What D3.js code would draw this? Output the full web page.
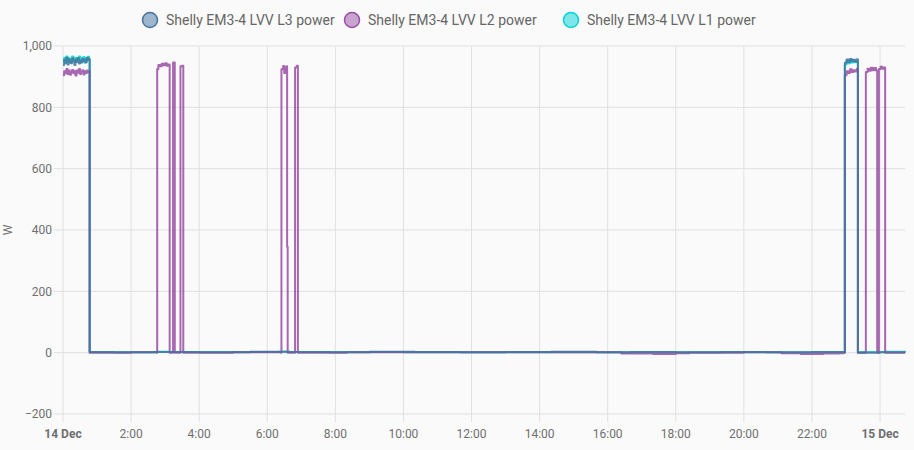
<!DOCTYPE html>
<html><head><meta charset="utf-8">
<script src="https://cdn.jsdelivr.net/npm/d3@7"></script>
<style>
body{margin:0;background:#fafafa;font-family:Roboto,"Noto Sans",sans-serif;}
svg{display:block;}
</style></head><body>
<svg id="c" width="914" height="450"></svg>
<script>
// ---- data (minutes since 14 Dec 00:00) ----
const seriesNames = ["Shelly EM3-4 LVV L3 power","Shelly EM3-4 LVV L2 power","Shelly EM3-4 LVV L1 power"];
const seriesColors = ["#44739e","#984ea3","#00d2d5"];
const yTicks = [-200,0,200,400,600,800,1000];
const xTickHours = [0,2,4,6,8,10,12,14,16,18,20,22,24];
const xTickLabels = ["14 Dec","2:00","4:00","6:00","8:00","10:00","12:00","14:00","16:00","18:00","20:00","22:00","15 Dec"];

const L3 = [[0,938],[2,955],[4,946],[6,962],[8,940],[10,957],[12,949],[14,944],[16,960],[18,951],[20,938],[22,956],[24,948],[26,961],[28,943],[30,953],[32,946],[34,958],[36,950],[38,955],[40,947],[42,962],[44,954],[46,958],
[47,2],[90,1],[160,2],[240,1],[330,3],[400,2],[470,1],[540,3],[620,2],[700,1],[780,2],[860,3],[940,1],[1000,2],[1080,1],[1160,2],[1240,1],[1320,2],[1376,1],
[1378,945],[1381,956],[1384,948],[1387,958],[1390,950],[1393,955],[1396,949],[1399,957],
[1401,0],[1440,1],[1484,0]];

const L2 = [[0,905],[2,918],[4,911],[6,925],[8,909],[10,920],[12,906],[14,915],[16,922],[18,911],[20,918],[22,904],[24,920],[26,913],[28,925],[30,909],[32,916],[34,921],[36,907],[38,918],[40,912],[42,920],[44,914],[46,918],
[47,0],[120,1],[165,0],
[166,925],[168,938],[171,934],[174,942],[177,937],[180,944],[183,936],[186,940],
[188,0],[194,946],[197,0],[207,934],[210,936],[212,0],
[300,1],[384,0],[385,924],[388,935],[390,912],[392,930],[394,934],[395,345],[396,0],
[409,930],[412,936],[414,0],
[500,1],[700,1],[900,1],[984,-3],[1040,-4],[1080,-2],[1104,0],[1200,1],[1266,-2],[1300,-4],[1340,-3],[1368,-2],[1376,0],
[1378,905],[1381,918],[1384,912],[1387,924],[1390,915],[1393,921],[1396,917],[1399,925],
[1401,0],[1414,1],
[1415,915],[1418,926],[1421,919],[1424,929],[1427,921],[1430,928],[1433,920],
[1435,0],[1438,925],[1441,932],[1444,926],[1447,930],[1449,0],[1484,0]];

const L1 = [[0,950],[2,962],[4,944],[6,966],[8,952],[10,960],[12,945],[14,958],[16,966],[18,950],[20,962],[22,948],[24,960],[26,955],[28,966],[30,947],[32,961],[34,952],[36,964],[38,945],[40,960],[42,954],[44,965],[46,956],
[47,1],[165,3],[188,2],[380,3],[396,2],[600,1],[900,1],[1200,1],[1376,1],
[1378,940],[1381,952],[1384,944],[1387,955],[1390,946],[1393,953],[1396,947],[1399,951],
[1401,2],[1449,3],[1484,1]];

// ---- chart ----
const svg = d3.select("#c");
const W = 914, H = 450;
const m = {left:63, right:9, top:46, bottom:36};
const base = new Date(2023,11,14,0,0,0);
const toDate = mins => new Date(base.getTime() + mins*60000);
const x = d3.scaleTime().domain([toDate(0), toDate(1484)]).range([m.left, W - m.right]);
const y = d3.scaleLinear().domain([-200,1000]).range([H - m.bottom, m.top]);

const grid = svg.append("g");
grid.selectAll("line.h").data(yTicks).join("line")
  .attr("x1", m.left - 9).attr("x2", W - m.right)
  .attr("y1", d=>y(d)).attr("y2", d=>y(d))
  .attr("stroke","#e0e0e0").attr("stroke-width",1);
const xTickDates = xTickHours.map(h=>toDate(h*60));
grid.selectAll("line.v").data(xTickDates).join("line")
  .attr("x1", d=>x(d)).attr("x2", d=>x(d))
  .attr("y1", m.top).attr("y2", H - m.bottom + 8)
  .attr("stroke","#e0e0e0").attr("stroke-width",1);

svg.append("g").selectAll("text").data(yTicks).join("text")
  .attr("x", m.left - 11).attr("y", d=>y(d)).attr("dy","0.35em")
  .attr("text-anchor","end").attr("font-size",12).attr("fill","#6f6f6f")
  .text(d=>d3.format(",")(d));
svg.append("g").selectAll("text").data(xTickDates).join("text")
  .attr("x", d=>x(d)).attr("y", H - m.bottom + 24)
  .attr("text-anchor","middle").attr("font-size",12).attr("fill","#6f6f6f")
  .attr("font-weight",(d,i)=> (xTickLabels[i].includes("Dec") ? "bold" : "normal"))
  .text((d,i)=>xTickLabels[i]);
svg.append("text").attr("transform",`translate(12,${y(400)}) rotate(-90)`)
  .attr("text-anchor","middle").attr("font-size",12).attr("fill","#6f6f6f").text("W");

const line = d3.line().x(d=>x(toDate(d[0]))).y(d=>y(d[1])).curve(d3.curveStepAfter);
const data = [L3, L2, L1];
const order = [2,1,0];
const gL = svg.append("g");
order.forEach(i=>{
  gL.append("path").datum(data[i]).attr("d", line)
    .attr("fill","none").attr("stroke", seriesColors[i]).attr("stroke-width",2)
    .attr("stroke-linejoin","round").attr("stroke-opacity",0.85);
});

const legendX = [142, 344, 563];
const lg = svg.append("g").attr("font-size",14);
seriesNames.forEach((n,i)=>{
  const lx = legendX[i];
  const g = lg.append("g");
  g.append("circle").attr("cx", lx+8).attr("cy",20).attr("r",7.5)
    .attr("fill", d3.color(seriesColors[i]).copy({opacity:0.5})).attr("stroke", seriesColors[i]).attr("stroke-width",1.5);
  g.append("text").attr("x", lx+24).attr("y",20).attr("dy","0.35em").attr("fill","#666").text(n);
});
</script>
</body></html>
